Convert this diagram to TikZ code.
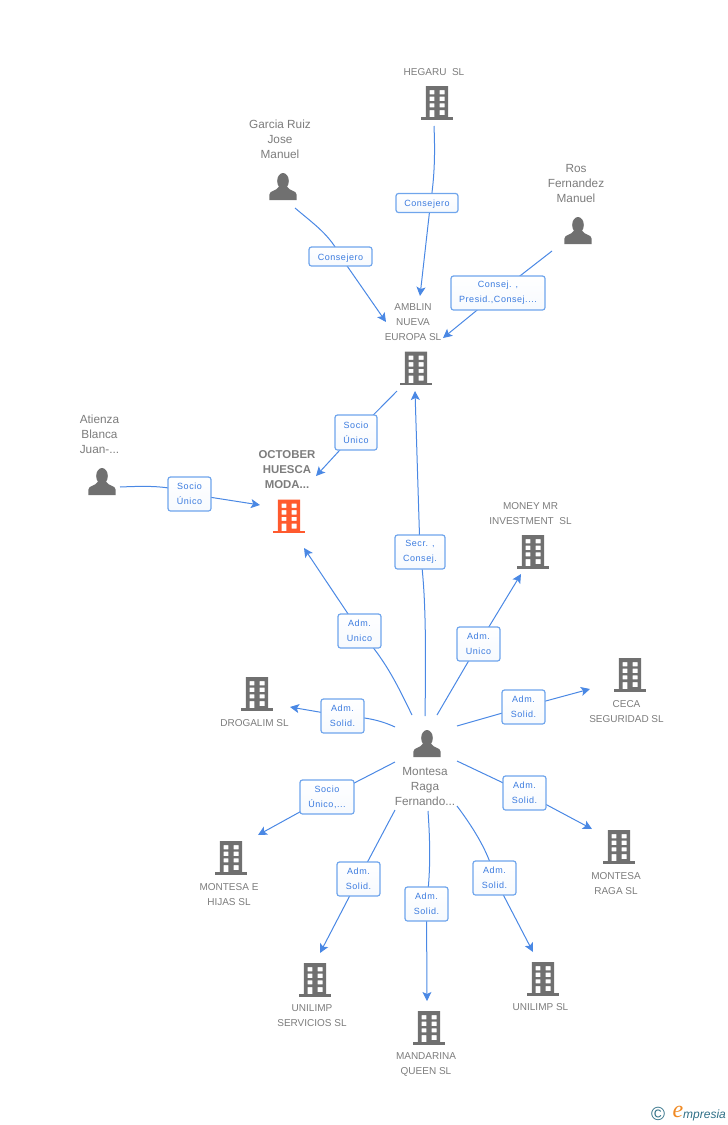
\documentclass[tikz,border=0pt]{standalone}
\usepackage{fontspec}
\setmainfont{Liberation Sans}
\newfontfamily\logoserif{Liberation Serif}
\usetikzlibrary{arrows.meta}
\pgfdeclarelayer{links}
\pgfsetlayers{links,main}
\definecolor{linkc}{HTML}{4A88E4}
\definecolor{boxc}{HTML}{6FA5EC}
\definecolor{labc}{HTML}{3B7BDF}
\definecolor{txtc}{HTML}{7C7C7C}
\definecolor{iconc}{HTML}{707070}
\definecolor{hotc}{HTML}{FF5A2E}
\definecolor{tealc}{HTML}{2F6F86}
\definecolor{orc}{HTML}{F08A24}
\tikzset{
  x=1pt,y=-1pt,
  conn/.style={draw=linkc,line width=1pt},
  arr/.style={conn,-{Stealth[length=9pt,width=9pt,inset=2pt]}},
  lab/.style={draw=boxc,line width=1.2pt,rounded corners=2.5pt,top color=white,bottom color=white!94!boxc,
    text=labc,align=center,inner sep=0pt,minimum width=43pt,minimum height=34pt,
    execute at begin node={\rule{0pt}{9pt}},
    font=\fontsize{9}{15}\selectfont\addfontfeature{LetterSpace=6}},
  txt/.style={text=txtc,align=center,inner sep=0pt,font=\fontsize{11.8}{15}\selectfont},
  txtu/.style={txt,font=\fontsize{10}{15}\selectfont},
  txtb/.style={txt,font=\fontsize{11.4}{15}\selectfont\bfseries},
  spot/.style={inner sep=0pt,minimum width=30pt,minimum height=34pt}
}
% name, cx, top, colour
\newcommand\bld[4]{%
  \node[spot] (#1) at (#2,#3+17) {};
  \begin{scope}[shift={(#2,#3)}]
    \fill[#4,even odd rule] (-11.2,0) rectangle (11.2,31.5)
      (-7.5,4) rectangle (-2.6,8.3) (2.6,4) rectangle (7.5,8.3)
      (-7.5,10.7) rectangle (-2.6,15) (2.6,10.7) rectangle (7.5,15)
      (-7.5,17.3) rectangle (-2.6,21.3) (2.6,17.3) rectangle (7.5,21.3)
      (-7.5,24) rectangle (-2.6,31.5) (2.6,24) rectangle (7.5,29);
    \fill[#4] (-15.8,31.3) rectangle (15.8,33.7);
  \end{scope}}
% name, cx, top
\newcommand\psn[3]{%
  \node[inner sep=0pt,minimum width=28pt,minimum height=28pt] (#1) at (#2,#3+14) {};
  \begin{scope}[shift={(#2,#3)}]
    \fill[iconc] (0,8) ellipse [x radius=5.8,y radius=8];
    \fill[iconc] (-13.6,27) -- (-13.6,21.5) .. controls (-13.6,17.5) and (-6,18) .. (-4,13.5)
      -- (4,13.5) .. controls (6,18) and (13.6,17.5) .. (13.6,21.5) -- (13.6,27) -- cycle;
  \end{scope}}
\begin{document}
\begin{tikzpicture}
\useasboundingbox (0,0) rectangle (728,1125);
% free ends
\coordinate (a1) at (434,126); \coordinate (m1) at (430.5,203); \coordinate (b1) at (420,296);
\coordinate (a2) at (295,208); \coordinate (b2) at (386,322);
\coordinate (a3) at (552,251); \coordinate (b3) at (443,338);
\coordinate (a4) at (397,391); \coordinate (b4) at (316,476);
\coordinate (a5) at (120,487); \coordinate (b5) at (260,505);
\coordinate (a6) at (425,716); \coordinate (b6) at (415,391);
\coordinate (a7) at (412,715); \coordinate (b7) at (304,548);
\coordinate (a8) at (437,715); \coordinate (b8) at (521,574);
\coordinate (a9) at (395,727); \coordinate (b9) at (290,707);
\coordinate (a10) at (457,726); \coordinate (b10) at (590,689);
\coordinate (a11) at (395,762); \coordinate (b11) at (258,835);
\coordinate (a12) at (457,761); \coordinate (b12) at (592,829);
\coordinate (a13) at (395,810); \coordinate (b13) at (320,953);
\coordinate (a14) at (428,811); \coordinate (b14) at (427,1001);
\coordinate (a15) at (457,806); \coordinate (b15) at (533,952);
% label nodes
\node[lab,minimum width=62pt,minimum height=19pt] (l1) at (427,203) {Consejero};
\node[lab,minimum width=63pt,minimum height=19pt] (l2) at (340.5,256.5) {Consejero};
\node[lab,minimum width=94pt] (l3) at (498,293) {Consej. ,\\Presid.,Consej....};
\node[lab,minimum width=42pt,minimum height=35pt] (l4) at (356,432.5) {Socio\\Único};
\node[lab] (l5) at (189.5,494) {Socio\\Único};
\node[lab,minimum width=50pt] (l6) at (420,552) {Secr. ,\\Consej.};
\node[lab] (l7) at (359.5,631) {Adm.\\Unico};
\node[lab] (l8) at (478.5,644) {Adm.\\Unico};
\node[lab] (l9) at (342.5,716) {Adm.\\Solid.};
\node[lab] (l10) at (523.5,707) {Adm.\\Solid.};
\node[lab,minimum width=54pt] (l11) at (327,797) {Socio\\Único,...};
\node[lab] (l12) at (524.5,793) {Adm.\\Solid.};
\node[lab] (l13) at (358.5,879) {Adm.\\Solid.};
\node[lab] (l14) at (426.5,904) {Adm.\\Solid.};
\node[lab] (l15) at (494.5,878) {Adm.\\Solid.};
% connectors
\begin{pgfonlayer}{links}
\draw[conn] (a1) .. controls (435,150) and (435,175) .. (m1);
\draw[arr] (m1) -- (b1);
\draw[conn] (a2) .. controls (315,225) and (330,235) .. (l2.center);
\draw[arr] (l2.center) -- (b2);
\draw[conn] (a3) -- (l3.center);
\draw[arr] (l3.center) -- (b3);
\draw[conn] (a4) -- (l4.center);
\draw[arr] (l4.center) -- (b4);
\draw[conn] (a5) .. controls (145,486) and (170,485) .. (l5.center);
\draw[arr] (l5.center) -- (b5);
\draw[conn] (a6) .. controls (426,650) and (426,590) .. (l6.center);
\draw[arr] (l6.center) -- (b6);
\draw[conn] (a7) .. controls (395,680) and (385,660) .. (l7.center);
\draw[arr] (l7.center) -- (b7);
\draw[conn] (a8) -- (l8.center);
\draw[arr] (l8.center) -- (b8);
\draw[conn] (a9) .. controls (380,720) and (365,717) .. (l9.center);
\draw[arr] (l9.center) -- (b9);
\draw[conn] (a10) -- (l10.center);
\draw[arr] (l10.center) -- (b10);
\draw[conn] (a11) -- (l11.center);
\draw[arr] (l11.center) -- (b11);
\draw[conn] (a12) -- (l12.center);
\draw[arr] (l12.center) -- (b12);
\draw[conn] (a13) -- (l13.center);
\draw[arr] (l13.center) -- (b13);
\draw[conn] (a14) .. controls (430,840) and (431,870) .. (l14.center);
\draw[arr] (l14.center) -- (b14);
\draw[conn] (a15) .. controls (475,830) and (490,855) .. (l15.center);
\draw[arr] (l15.center) -- (b15);
\end{pgfonlayer}
% icons
\bld{hegaru}{437}{86}{iconc}
\bld{amblin}{416}{351.5}{iconc}
\bld{october}{289}{499.5}{hotc}
\bld{money}{533}{535}{iconc}
\bld{ceca}{630}{658}{iconc}
\bld{drogalim}{257}{677}{iconc}
\bld{montesae}{231}{841}{iconc}
\bld{montesar}{619}{830}{iconc}
\bld{uniservicios}{315}{963}{iconc}
\bld{mandarina}{429}{1011}{iconc}
\bld{unilimp}{543}{962}{iconc}
\psn{garcia}{283}{173}
\psn{ros}{578}{217}
\psn{atienza}{102}{468}
\psn{montesa}{427}{730}
% texts
\node[txtu] (t1) at (434,72) {HEGARU\ \ SL};
\node[txt] (t2) at (280,139) {Garcia Ruiz\\Jose\\Manuel};
\node[txt] (t3) at (576,183) {Ros\\Fernandez\\Manuel};
\node[txtu] (t4) at (413,322) {AMBLIN\\NUEVA\\EUROPA SL};
\node[txtb] (t5) at (287,470) {OCTOBER\\HUESCA\\MODA...};
\node[txt] (t6) at (99.5,434) {Atienza\\Blanca\\Juan-...};
\node[txtu] (t7) at (530.5,513.5) {MONEY MR\\INVESTMENT\ \ SL};
\node[txtu] (t8) at (626.5,711.5) {CECA\\SEGURIDAD SL};
\node[txtu] (t9) at (254.5,723) {DROGALIM SL};
\node[txtu] (t10) at (229,894.5) {MONTESA E\\HIJAS SL};
\node[txtu] (t11) at (616,883.5) {MONTESA\\RAGA SL};
\node[txtu] (t12) at (312,1015.5) {UNILIMP\\SERVICIOS SL};
\node[txtu] (t13) at (426,1064.5) {MANDARINA\\QUEEN SL};
\node[txtu] (t14) at (540.5,1007) {UNILIMP SL};
\node[txt] (t15) at (425,786) {Montesa\\Raga\\Fernando...};
% logo
\node[text=tealc,inner sep=0pt,font=\fontsize{19}{19}\selectfont] (c1) at (658,1114) {©};
\node[text=orc,inner sep=0pt,font=\logoserif\itshape\fontsize{24}{24}\selectfont] (c2) at (678,1111.5) {e};
\node[text=tealc,inner sep=0pt,anchor=west,font=\itshape\fontsize{12}{12}\selectfont] (c3) at (683,1115) {mpresia};
\end{tikzpicture}
\end{document}
